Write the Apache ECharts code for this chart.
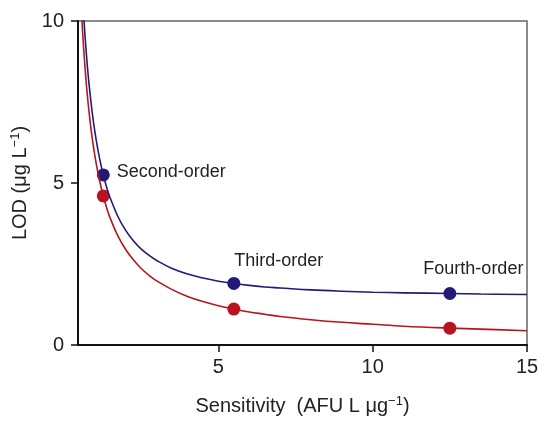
<!DOCTYPE html>
<html>
<head>
<meta charset="utf-8">
<script src="https://cdn.jsdelivr.net/npm/echarts@6/dist/echarts.min.js"></script>
<style>
  html, body { margin: 0; padding: 0; background: #fff; }
  #chart { width: 538px; height: 424px; }
</style>
</head>
<body>
<div id="chart"></div>
<script>
// curve samples
const sens = [0.55, 0.6, 0.65, 0.7, 0.75, 0.8, 0.9, 1.0, 1.1, 1.2, 1.27, 1.4, 1.5, 1.75, 2, 2.25, 2.5, 2.75, 3, 3.5, 4, 4.5, 5, 5.5, 6, 6.5, 7, 8, 9, 10, 11, 12.5, 13.5, 15]
const blueCurve = [11.7, 10.76, 9.94, 9.25, 8.65, 8.13, 7.26, 6.56, 6.0, 5.53, 5.25, 4.8, 4.52, 3.95, 3.53, 3.21, 2.96, 2.77, 2.61, 2.36, 2.19, 2.07, 1.97, 1.9, 1.84, 1.79, 1.76, 1.7, 1.66, 1.63, 1.61, 1.59, 1.573, 1.56]
const redCurve = [10.53, 9.66, 8.92, 8.29, 7.74, 7.26, 6.46, 5.82, 5.3, 4.86, 4.6, 4.17, 3.9, 3.35, 2.94, 2.62, 2.36, 2.15, 1.98, 1.71, 1.5, 1.34, 1.21, 1.11, 1.02, 0.95, 0.88, 0.78, 0.7, 0.64, 0.58, 0.52, 0.49, 0.44]

// measured points
const orderNames = ['Second-order', 'Third-order', 'Fourth-order']
const orderSens = [1.27, 5.5, 12.5]
const blueLOD = [5.25, 1.9, 1.59]
const redLOD = [4.6, 1.11, 0.52]

const xTicks = [5, 10, 15]
const yTicks = [0, 5, 10]

const blue = '#221a78'
const red = '#b8141f'
const font = 'Liberation Sans, Arial, sans-serif'

const zip = (xs, ys) => xs.map((x, i) => [x, ys[i]])
const labelOffsets = [[2, -3], [-11, -22], [-38, -24]]

const nameRich = {
  t: { fontSize: 20, fontFamily: font, color: '#222' },
  s: { fontSize: 13, fontFamily: font, color: '#222', padding: [0, 0, 10, 0] },
}

const chart = echarts.init(document.getElementById('chart'))
chart.setOption({
  animation: false,
  grid: {
    left: 78,
    right: 11,
    top: 21,
    bottom: 79,
    outerBoundsMode: 'none',
    show: true,
    borderColor: '#666',
    borderWidth: 1.5,
  },
  xAxis: {
    type: 'value',
    min: 0.45,
    max: 15,
    name: '{t|Sensitivity  (AFU L μg}{s|−1}{t|)}',
    nameLocation: 'middle',
    nameGap: 50,
    nameTextStyle: { rich: nameRich },
    axisLine: { show: true, onZero: false, lineStyle: { color: '#111', width: 2 } },
    axisTick: { show: true, inside: false, length: 7, customValues: xTicks, lineStyle: { color: '#111', width: 1.5 } },
    axisLabel: { customValues: xTicks, fontSize: 20, fontFamily: font, color: '#222', margin: 12 },
    splitLine: { show: false },
  },
  yAxis: {
    type: 'value',
    min: 0,
    max: 10,
    name: '{t|LOD (μg L}{s|−1}{t|)}',
    nameLocation: 'middle',
    nameGap: 46,
    nameRotate: 90,
    nameTextStyle: { rich: nameRich },
    axisLine: { show: true, onZero: false, lineStyle: { color: '#111', width: 2 } },
    axisTick: { show: true, inside: false, length: 7, customValues: yTicks, lineStyle: { color: '#111', width: 1.5 } },
    axisLabel: { customValues: yTicks, fontSize: 20, fontFamily: font, color: '#222', margin: 14 },
    splitLine: { show: false },
  },
  series: [
    {
      type: 'line',
      data: zip(sens, blueCurve),
      smooth: 0.4,
      showSymbol: false,
      clip: true,
      lineStyle: { color: blue, width: 1.6 },
    },
    {
      type: 'line',
      data: zip(sens, redCurve),
      smooth: 0.4,
      showSymbol: false,
      clip: true,
      lineStyle: { color: red, width: 1.6 },
    },
    {
      type: 'scatter',
      symbolSize: 13,
      itemStyle: { color: blue, opacity: 1 },
      data: orderSens.map((x, i) => ({
        value: [x, blueLOD[i]],
        label: {
          show: true,
          formatter: orderNames[i],
          position: 'right',
          offset: labelOffsets[i],
          fontSize: 18,
          fontFamily: font,
          color: '#222',
        },
      })),
    },
    {
      type: 'scatter',
      symbolSize: 13,
      itemStyle: { color: red, opacity: 1 },
      data: zip(orderSens, redLOD),
    },
  ],
})
</script>
</body>
</html>
